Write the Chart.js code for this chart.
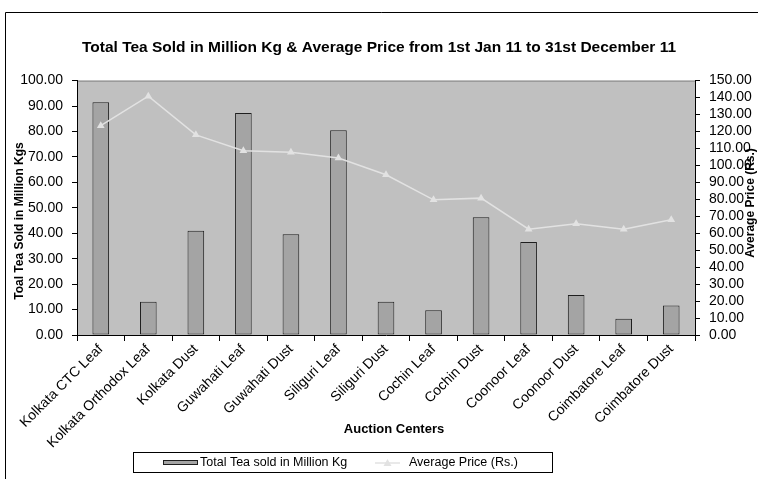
<!DOCTYPE html>
<html>
<head>
<meta charset="utf-8">
<title>Tea auction sales 2011</title>
<script src="https://cdn.jsdelivr.net/npm/chart.js@4.4.1/dist/chart.umd.min.js"></script>
<style>
  html, body { margin: 0; padding: 0; background: #fff; }
  canvas { display: block; }
</style>
</head>
<body>
<canvas id="teaChart" width="758" height="479"></canvas>
<script>
const FONT = '"Liberation Sans", Arial, sans-serif';

const centers = ['Kolkata CTC Leaf', 'Kolkata Orthodox Leaf', 'Kolkata Dust', 'Guwahati Leaf',
  'Guwahati Dust', 'Siliguri Leaf', 'Siliguri Dust', 'Cochin Leaf', 'Cochin Dust',
  'Coonoor Leaf', 'Coonoor Dust', 'Coimbatore Leaf', 'Coimbatore Dust'];
// million kg
const teaSold = [91.5, 13.1, 41.0, 87.3, 39.6, 80.5, 13.1, 9.7, 46.3, 36.6, 15.7, 6.4, 11.6];
// Rs. per kg
const avgPrice = [123.4, 140.8, 118.0, 108.7, 107.7, 104.4, 94.5, 79.7, 80.7, 62.4, 65.6, 62.4, 67.9];

const chartTitle = 'Total Tea Sold in Million Kg & Average Price from 1st Jan 11 to 31st December 11';
const leftTitle = 'Toal Tea Sold in Million Kgs';
const rightTitle = 'Average Price (Rs.)';
const bottomTitle = 'Auction Centers';

// grey plot area + outer frame
const plotBg = {
  id: 'plotBg',
  beforeDraw(chart) {
    const {ctx, chartArea: a} = chart;
    ctx.save();
    ctx.fillStyle = '#c0c0c0';
    ctx.fillRect(a.left, a.top, a.right - a.left, a.bottom - a.top);
    ctx.strokeStyle = '#808080';
    ctx.lineWidth = 1;
    ctx.beginPath();
    ctx.moveTo(a.left, a.top + 0.5);
    ctx.lineTo(a.right, a.top + 0.5);
    ctx.stroke();
    ctx.restore();
  },
  afterDraw(chart) {
    const ctx = chart.ctx;
    ctx.save();
    ctx.strokeStyle = '#000';
    ctx.lineWidth = 1;
    ctx.beginPath();
    ctx.moveTo(5.5, 479);
    ctx.lineTo(5.5, 12.5);
    ctx.lineTo(758, 12.5);
    ctx.stroke();
    ctx.restore();
  }
};

// axis titles placed like the spreadsheet original
const axisTitles = {
  id: 'axisTitles',
  afterDraw(chart) {
    const ctx = chart.ctx;
    ctx.save();
    ctx.fillStyle = '#000';
    ctx.font = 'bold 12px ' + FONT;
    ctx.textAlign = 'center';
    ctx.textBaseline = 'middle';

    ctx.save();
    ctx.translate(20, 221);
    ctx.rotate(-Math.PI / 2);
    ctx.fillText(leftTitle, 0, 0);
    ctx.restore();

    ctx.save();
    ctx.translate(751, 203);
    ctx.rotate(-Math.PI / 2);
    ctx.fillText(rightTitle, 0, 0);
    ctx.restore();

    ctx.font = 'bold 13px ' + FONT;
    ctx.fillText(bottomTitle, 394, 429);
    ctx.restore();
  }
};

// boxed legend under the chart
const boxLegend = {
  id: 'boxLegend',
  afterDraw(chart) {
    const ctx = chart.ctx;
    const bar = chart.data.datasets[0];
    const line = chart.data.datasets[1];
    const cy = 463;
    ctx.save();
    ctx.strokeStyle = '#000';
    ctx.lineWidth = 1;
    ctx.strokeRect(133.5, 452.5, 419, 20);

    ctx.fillStyle = bar.backgroundColor;
    ctx.fillRect(163, cy - 3, 35, 5);
    ctx.strokeStyle = bar.borderColor;
    ctx.strokeRect(163.5, cy - 2.5, 34, 4);

    ctx.strokeStyle = line.borderColor;
    ctx.lineWidth = 1.5;
    ctx.beginPath();
    ctx.moveTo(375, cy);
    ctx.lineTo(400, cy);
    ctx.stroke();
    ctx.fillStyle = line.pointBackgroundColor;
    ctx.beginPath();
    ctx.moveTo(387.5, cy - 4);
    ctx.lineTo(391.5, cy + 3);
    ctx.lineTo(383.5, cy + 3);
    ctx.closePath();
    ctx.fill();

    ctx.fillStyle = '#000';
    ctx.font = '12.5px ' + FONT;
    ctx.textAlign = 'left';
    ctx.textBaseline = 'middle';
    ctx.fillText(bar.label, 200, cy);
    ctx.fillText(line.label, 409, cy);
    ctx.restore();
  }
};

new Chart('teaChart', {
  type: 'bar',
  data: {
    labels: centers,
    datasets: [{
      type: 'bar',
      label: 'Total Tea sold in Million Kg',
      data: teaSold,
      yAxisID: 'y',
      backgroundColor: '#a4a4a4',
      borderColor: '#1e1e1e',
      borderWidth: 1,
      borderSkipped: false,
      categoryPercentage: 1,
      barPercentage: 0.35,
      order: 2
    }, {
      type: 'line',
      label: 'Average Price (Rs.)',
      data: avgPrice,
      yAxisID: 'y1',
      borderColor: '#e2e2e2',
      borderWidth: 1.5,
      pointStyle: 'triangle',
      pointRadius: 4.5,
      pointBackgroundColor: '#e2e2e2',
      pointBorderColor: '#e2e2e2',
      pointBorderWidth: 0,
      tension: 0,
      order: 1
    }]
  },
  options: {
    responsive: false,
    animation: false,
    devicePixelRatio: 1,
    layout: { padding: { left: 0, right: 0, top: 0, bottom: 0 } },
    plugins: {
      legend: { display: false },
      tooltip: { enabled: false },
      title: {
        display: true,
        text: chartTitle,
        color: '#000',
        font: { family: FONT, size: 15.5, weight: 'bold' },
        padding: { top: 38, bottom: 24 }
      }
    },
    scales: {
      x: {
        offset: true,
        afterFit(scale) { scale.height = 144; },
        border: { color: '#000', width: 1 },
        grid: { display: true, drawOnChartArea: false, drawTicks: true, tickLength: 6, color: '#000', offset: true },
        ticks: {
          color: '#000',
          font: { family: FONT, size: 14 },
          maxRotation: 45,
          minRotation: 45,
          padding: 0,
          autoSkip: false
        }
      },
      y: {
        position: 'left',
        min: 0,
        max: 100,
        afterFit(scale) { scale.width = 77; },
        border: { color: '#000', width: 1 },
        grid: { drawOnChartArea: false, tickLength: 5, color: '#000' },
        ticks: {
          stepSize: 10,
          autoSkip: false,
          color: '#000',
          padding: 9,
          font: { family: FONT, size: 14 },
          callback: v => v.toFixed(2)
        }
      },
      y1: {
        position: 'right',
        min: 0,
        max: 150,
        afterFit(scale) { scale.width = 63; },
        border: { color: '#000', width: 1 },
        grid: { drawOnChartArea: false, tickLength: 5, color: '#000' },
        ticks: {
          stepSize: 10,
          autoSkip: false,
          color: '#000',
          padding: 9,
          font: { family: FONT, size: 14 },
          callback: v => v.toFixed(2)
        }
      }
    }
  },
  plugins: [plotBg, axisTitles, boxLegend]
});
</script>
</body>
</html>
